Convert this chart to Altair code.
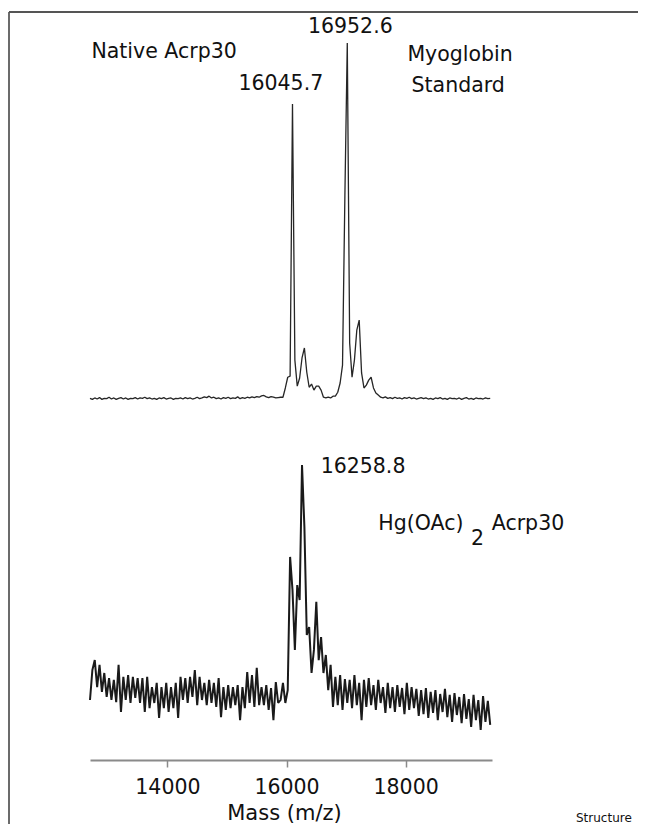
import altair as alt
import pandas as pd

# ---------------- data ----------------
MASS_START = 12700   # m/z of the first sample
MASS_STEP = 40       # m/z spacing of the samples

# Native Acrp30 + myoglobin standard (relative intensity, %)
native_acrp30 = [
    0.5, 0.2, 0.6, 0.3, 0.7, 0.2, 0.5, 0.4, 0.8, 0.3,
    0.6, 0.2, 0.5, 0.7, 0.3, 0.6, 0.2, 0.5, 0.4, 0.7,
    0.3, 0.6, 0.5, 0.8, 0.4, 0.6, 0.3, 0.5, 0.2, 0.6,
    0.4, 0.7, 0.3, 0.5, 0.6, 0.2, 0.5, 0.4, 0.6, 0.3,
    0.7, 0.4, 0.6, 0.3, 0.5, 0.8, 0.4, 0.6, 0.9, 0.7,
    1.1, 0.6, 0.8, 0.4, 0.6, 0.3, 0.7, 0.5, 0.8, 0.4,
    0.6, 0.5, 0.9, 0.4, 0.7, 0.5, 0.8, 0.6, 0.9, 0.7,
    1.0, 0.8, 1.2, 1.3, 0.9, 0.7, 1.0, 0.8, 0.6, 0.7,
    0.8,
    0.8, 3.4, 6.4, 6.7, 82.9, 11.2, 3.9, 6.2, 11.8, 14.6,
    7.8, 3.6, 4.5, 2.8, 3.9, 3.9, 2.8, 0.8, 0.6, 0.8,
    0.6, 1.1, 1.1, 2.2, 4.8, 9.8, 57.4, 100.0, 16.0, 6.4,
    11.2, 19.6, 22.4, 7.6, 3.4, 4.2, 5.6, 6.4, 3.4, 2.0,
    1.4, 0.8,
    0.6, 0.9, 0.5, 0.7, 0.4, 0.8, 0.5, 0.6, 0.3, 0.7,
    0.5, 0.8, 0.4, 0.6, 0.3, 0.5, 0.7, 0.4, 0.6, 0.3,
    0.5, 0.2, 0.6, 0.4, 0.7, 0.3, 0.5, 0.2, 0.6, 0.4,
    0.5, 0.3, 0.6, 0.2, 0.5, 0.7, 0.3, 0.5, 0.2, 0.6,
    0.4, 0.5, 0.3, 0.6, 0.4, 0.5,
]

# Hg(OAc)2-treated Acrp30 (relative intensity)
hg_acrp30 = [
    20.0, 30.0, 33.3, 24.3, 31.7, 22.7, 29.0, 21.0, 27.3, 20.0,
    26.7, 19.3, 31.7, 16.0, 27.7, 20.0, 28.3, 19.0, 27.7, 20.7,
    27.3, 19.0, 27.3, 16.0, 27.7, 17.3, 24.3, 19.0, 25.7, 14.0,
    24.3, 17.3, 25.7, 16.0, 24.3, 17.3, 25.7, 14.0, 27.7, 20.0,
    27.3, 19.0, 27.7, 21.0, 30.0, 18.3, 27.7, 20.0, 25.7, 18.3,
    26.7, 19.0, 25.7, 17.7, 27.3, 14.3, 24.3, 16.7, 25.0, 17.3,
    24.3, 18.3, 25.0, 13.3, 24.3, 17.3, 29.3, 19.0, 28.3, 17.7,
    30.7, 18.3, 24.3, 18.3, 25.0, 16.7, 24.0, 13.3, 26.0, 19.0,
    20.0, 25.7, 19.0, 23.3, 67.7, 56.7, 36.7, 58.3, 53.3, 98.3,
    77.7, 41.7, 44.3, 29.0, 36.7, 52.7, 33.3, 41.0, 29.0, 35.0,
    23.3, 31.7, 17.7,
    27.7, 18.3, 28.3, 16.7, 27.0, 19.0, 26.7, 17.3, 28.3, 18.3,
    25.7, 13.3, 26.7, 17.7, 27.3, 18.3, 25.0, 16.7, 26.7, 19.0,
    24.3, 15.7, 25.7, 17.3, 24.3, 16.0, 25.0, 17.7, 24.0, 15.3,
    25.7, 16.7, 24.3, 17.3, 23.7, 14.7,
    23.3, 15.3, 24.0, 14.0, 22.7, 15.7, 23.3, 13.3, 22.0, 16.0,
    23.7, 14.3, 21.7, 12.7, 22.3, 15.0, 21.0, 12.3, 22.0, 13.7,
    20.3, 11.0, 21.7, 13.3, 20.0, 10.0, 21.3, 12.7, 19.7, 11.7,
]

tick_values = [14000, 16000, 18000]
x_title = "Mass (m/z)"
top_texts = ["Native Acrp30", "16045.7", "16952.6", "Myoglobin", "Standard"]
bottom_texts = ["16258.8", "Hg(OAc)", "2", "Acrp30"]
source_note = "Structure"

# ---------------- layout (anchors in data coordinates) ----------------
top_anchor_mass = [12724, 15904, 17071, 18030, 18099]
top_anchor_int = [95.9, 86.8, 102.9, 95.0, 86.4]
top_align = ["left", "center", "center", "left", "left"]
bottom_anchor_mass = [16573, 17541, 19097, 19446]
bottom_anchor_int = [95.7, 76.7, 71.7, 76.7]
note_mass, note_int = 20860, -20.7

FONT = "DejaVu Sans"
INK = "#111111"

masses = [MASS_START + MASS_STEP * i for i in range(len(native_acrp30))]
top_df = pd.DataFrame({"mass": masses, "intensity": native_acrp30})
bot_df = pd.DataFrame({"mass": masses[: len(hg_acrp30)], "intensity": hg_acrp30})

x_scale = alt.Scale(domain=[12700, 19450], nice=False, zero=False)
x_axis = alt.Axis(
    values=tick_values, format="d", title=x_title, grid=False,
    domainColor="#8a8a8a", domainWidth=2, tickColor="#8a8a8a", tickWidth=1.5,
    tickSize=7, labelFont=FONT, labelFontSize=20.5, labelColor=INK,
    labelBaseline="alphabetic", labelPadding=26, labelFlush=False,
    labelOverlap=False, titleFont=FONT, titleFontSize=21,
    titleFontWeight="normal", titleColor=INK, titleX=194, titleY=59,
    titleBaseline="alphabetic", titleAlign="center",
)


def xenc():
    return alt.X("mass:Q", scale=x_scale, axis=x_axis)


top_y = alt.Y("intensity:Q", axis=None,
              scale=alt.Scale(domain=[-100.8, 108.7], nice=False, zero=False))
bot_y = alt.Y("intensity:Q", axis=None,
              scale=alt.Scale(domain=[0, 249.33], nice=False, zero=False))


def text_layer(txt, m, v, align, yenc, size=20.5):
    df = pd.DataFrame({"mass": [m], "intensity": [v], "label": [txt]})
    return alt.Chart(df).mark_text(
        align=align, baseline="alphabetic", font=FONT, fontSize=size, color=INK
    ).encode(x=xenc(), y=yenc, text="label:N")


top_line = alt.Chart(top_df).mark_line(
    color="#262626", strokeWidth=1.3, strokeJoin="bevel"
).encode(x=xenc(), y=top_y)
top_group = alt.layer(
    top_line,
    *[text_layer(t, m, v, a, top_y) for t, m, v, a in
      zip(top_texts, top_anchor_mass, top_anchor_int, top_align)],
)

bot_line = alt.Chart(bot_df).mark_line(
    color="#1a1a1a", strokeWidth=2.0, strokeJoin="bevel"
).encode(x=xenc(), y=bot_y)
bottom_group = alt.layer(
    bot_line,
    *[text_layer(t, m, v, "left", bot_y) for t, m, v in
      zip(bottom_texts, bottom_anchor_mass, bottom_anchor_int)],
    text_layer(source_note, note_mass, note_int, "left", bot_y, size=12),
)

# figure frame (left and top edges of the panel box)
frame_df = pd.DataFrame({"k": [0]})
left_edge = alt.Chart(frame_df).mark_rule(color="#3a3a3a", strokeWidth=1.5).encode(
    x=alt.value(-81), y=alt.value(0), y2=alt.value(812)
)
top_edge = alt.Chart(frame_df).mark_rule(color="#555555", strokeWidth=1.8).encode(
    x=alt.value(-81), x2=alt.value(548), y=alt.value(0)
)

chart = (
    alt.layer(top_group, bottom_group, left_edge, top_edge)
    .resolve_scale(y="independent")
    .properties(
        width=402, height=748,
        autosize=alt.AutoSizeParams(type="none"),
        padding={"left": 82, "top": 4, "right": 146, "bottom": 64},
        background="white",
    )
    .configure_view(stroke=None)
)

chart.save("out.html", embed_options={"renderer": "svg", "actions": False})
